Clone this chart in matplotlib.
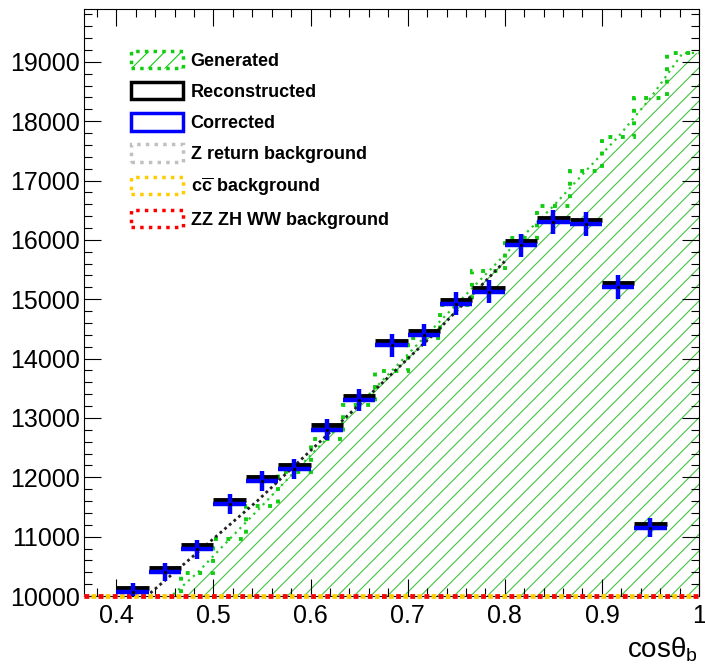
import numpy as np
import matplotlib
matplotlib.use("Agg")
import matplotlib.pyplot as plt
from matplotlib.patches import Patch

plt.rcParams['font.family'] = ['Liberation Sans', 'DejaVu Sans']
plt.rcParams['hatch.linewidth'] = 0.8

# histogram binning: 19 bins of width 1/30 from 11/30 to 1
bin_lo = 11 / 30
bin_w = 1 / 30
n_bins = 19

# generated (green, hatched)
generated = [8800, 9260, 9900, 10390, 10960, 11520, 12090, 12650, 13220, 13790,
             14350, 14910, 15470, 16030, 16570, 17160, 17735, 18390, 19150]
# reconstructed (black) and corrected (blue) with errors
reconstructed = [9470, 10140, 10470, 10855, 11620, 12010, 12210, 12875, 13373, 14295,
                 14469, 14992, 15197, 15980, 16368, 16340, 15278, 11216, 6070]
corrected = [9400, 10070, 10400, 10785, 11551, 11940, 12140, 12805, 13303, 14225,
             14399, 14922, 15127, 15910, 16298, 16270, 15208, 11146, 6000]
corr_err = [150, 150, 155, 160, 165, 170, 170, 175, 180, 190,
            190, 195, 195, 195, 200, 200, 197, 160, 150]
# backgrounds (all below the frame minimum)
bkg_zreturn = [1500, 1700, 1800, 1900, 2000, 2100, 2200, 2300, 2400, 2500,
               2600, 2700, 2800, 2900, 3000, 3100, 3200, 3300, 3400]
bkg_cc = [400, 450, 480, 500, 520, 540, 560, 580, 600, 620,
          640, 660, 680, 700, 720, 740, 760, 780, 800]
bkg_zzzhww = [300, 320, 340, 360, 380, 400, 420, 440, 460, 480,
              500, 520, 540, 560, 580, 600, 620, 640, 660]
# dotted fit curve drawn over the reconstructed
fit_x = [0.435, 0.545, 0.655, 0.73, 0.80]
fit_y = [10050, 11600, 13300, 14460, 15640]

ymin, ymax = 10000, 19890

edges = bin_lo + bin_w * np.arange(n_bins + 1)
centers = edges[:-1] + bin_w / 2
gen = np.array(generated)

fig = plt.figure(figsize=(7.05, 6.64), dpi=100)
ax = fig.add_axes([84 / 705, 68 / 664, 615 / 705, 587 / 664])

# generated: hatched area + dotted step outline
fx = np.append(centers, 1.0)
fy = np.append(gen, gen[-1])
ax.fill_between(fx, 0, fy, facecolor='none', edgecolor='#44c444', hatch='//',
                linewidth=0, zorder=1)
ax.plot(fx, fy, color='#22cc22', lw=1.6, ls=(0, (1, 2)), zorder=2)
ax.stairs(gen, edges, color='#11cc11', lw=2.8, ls=(0, (1, 2.2)), baseline=None, zorder=3)

ax.plot(fit_x, fit_y, color='#222222', lw=2.0, ls=(0, (1, 1.2)), zorder=3)

# backgrounds, clamped to frame bottom as ROOT does
for vals, col, ls in [(bkg_zreturn, '#c0c0c0', (0, (1, 2))),
                      (bkg_zzzhww, '#ff0000', (0, (1, 2))),
                      (bkg_cc, '#ffcc00', (1.5, (1, 2)))]:
    ax.stairs(np.maximum(vals, ymin), edges, color=col, lw=3.4, ls=ls,
              baseline=None, zorder=4, clip_on=False)

# reconstructed: black horizontal bars
ax.hlines(reconstructed, edges[:-1], edges[1:], color='black', lw=3.5, zorder=5)
# corrected: blue crosses
ax.errorbar(centers, corrected, xerr=bin_w / 2, yerr=corr_err, fmt='none',
            ecolor='#0000ff', elinewidth=3.2, capsize=0, zorder=6)
ax.plot(centers, corrected, ls='none', marker='o', ms=1.3, color='black', zorder=7)

ax.set_xlim(bin_lo, 1.0)
ax.set_ylim(ymin, ymax)
ax.set_xticks([0.4, 0.5, 0.6, 0.7, 0.8, 0.9, 1.0])
ax.set_xticklabels(['0.4', '0.5', '0.6', '0.7', '0.8', '0.9', '1'])
ax.set_xticks(np.arange(0.38, 1.0, 0.02), minor=True)
ax.set_yticks(np.arange(10000, 19001, 1000))
ax.set_yticks(np.arange(10000, 19900, 200), minor=True)
ax.tick_params(which='both', direction='in', top=True, right=True, width=0.8,
               labelsize=18)
ax.tick_params(which='major', length=12)
ax.tick_params(which='minor', length=6)
ax.tick_params(axis='y', pad=3)
ax.tick_params(axis='x', pad=6)
for s in ax.spines.values():
    s.set_linewidth(0.8)

fig.text(698 / 705, 1 - 657 / 664, 'cosθ$_{\\mathregular{b}}$', ha='right',
         va='baseline', fontsize=20)

handles = [
    Patch(facecolor='none', edgecolor='#11cc11', hatch='//', lw=2.5, ls=(0, (1, 1.5))),
    Patch(facecolor='none', edgecolor='black', lw=2.5),
    Patch(facecolor='none', edgecolor='#0000ff', lw=2.5),
    Patch(facecolor='none', edgecolor='#c0c0c0', lw=2.5, ls=(0, (1, 1.5))),
    Patch(facecolor='none', edgecolor='#ffcc00', lw=2.5, ls=(0, (1, 1.5))),
    Patch(facecolor='none', edgecolor='#ff0000', lw=2.5, ls=(0, (1, 1.5))),
]
labels = ['Generated', 'Reconstructed', 'Corrected', 'Z return background',
          r'c$\overline{\mathregular{c}}$ background', 'ZZ ZH WW background']
leg = ax.legend(handles, labels, loc='upper left', bbox_to_anchor=(131 / 705, 1 - 51 / 664),
                bbox_transform=fig.transFigure, frameon=False, borderpad=0,
                borderaxespad=0, handlelength=2.9, handleheight=1.1,
                handletextpad=0.4, labelspacing=0.68,
                prop={'size': 13, 'weight': 'bold'})

fig.savefig('out.png', dpi=100)
